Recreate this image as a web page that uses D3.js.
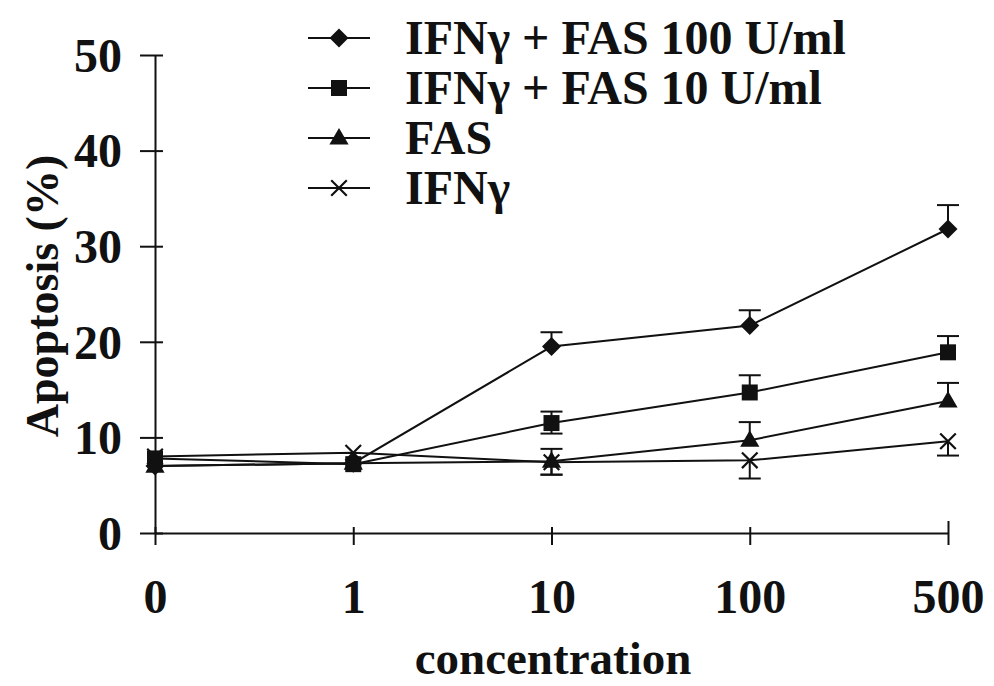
<!DOCTYPE html>
<html>
<head>
<meta charset="utf-8">
<script src="https://cdn.jsdelivr.net/npm/d3@7/dist/d3.min.js"></script>
<style>
  html, body { margin: 0; padding: 0; background: #fff; }
  svg text { font-family: "Liberation Serif", "Times New Roman", serif; font-weight: bold; fill: #111; }
</style>
</head>
<body>
<svg id="chart" width="994" height="686"></svg>
<script>
// Concentration levels (categorical, equally spaced)
const concentrations = ["0", "1", "10", "100", "500"];
const yTicks = [0, 10, 20, 30, 40, 50];

// Apoptosis (%) per series
const fas100Values = [7.0, 7.3, 19.5, 21.7, 31.8];
const fas10Values  = [7.8, 7.2, 11.5, 14.7, 18.9];
const fasValues    = [7.0, 7.3, 7.5, 9.7, 13.8];
const ifnValues    = [8.0, 8.4, 7.4, 7.6, 9.6];

// Error bar extents (upper / lower) per series
const fas100ErrUp   = [0, 0, 1.5, 1.6, 2.5];
const fas100ErrDown = [0, 0, 0, 0, 0];
const fas10ErrUp    = [0, 0, 1.2, 1.8, 1.7];
const fas10ErrDown  = [0, 0, 1.1, 0, 0];
const fasErrUp      = [0, 0, 1.3, 1.9, 1.9];
const fasErrDown    = [0, 0, 1.4, 0, 0];
const ifnErrUp      = [0, 0, 0, 0, 0];
const ifnErrDown    = [0, 0, 1.3, 1.9, 1.5];

const seriesNames = ["IFN\u03b3 + FAS 100 U/ml", "IFN\u03b3 + FAS 10 U/ml", "FAS", "IFN\u03b3"];

const series = [
  { name: seriesNames[0], values: fas100Values, up: fas100ErrUp, down: fas100ErrDown, symbol: "diamond" },
  { name: seriesNames[1], values: fas10Values,  up: fas10ErrUp,  down: fas10ErrDown,  symbol: "square" },
  { name: seriesNames[2], values: fasValues,    up: fasErrUp,    down: fasErrDown,    symbol: "triangle" },
  { name: seriesNames[3], values: ifnValues,    up: ifnErrUp,    down: ifnErrDown,    symbol: "cross" }
];

const svg = d3.select("#chart");
const ink = "#111";

const x = d3.scalePoint().domain(concentrations).range([155, 948]);
const y = d3.scaleLinear().domain([0, 50]).range([533, 55]);

// Y axis: ticks cross the axis line
const yAxis = svg.append("g")
  .attr("transform", `translate(${x(concentrations[0])},0)`)
  .call(d3.axisLeft(y).tickValues(yTicks).tickSize(15).tickSizeOuter(0));
yAxis.select(".domain").attr("stroke", ink).attr("stroke-width", 2);
yAxis.selectAll(".tick line").attr("stroke", ink).attr("stroke-width", 2).attr("x1", 8).attr("x2", -15);
yAxis.selectAll(".tick text").attr("font-size", 48).attr("x", -33).attr("dy", "0.34em");

// X axis
const xAxis = svg.append("g")
  .attr("transform", `translate(0,${y(0)})`)
  .call(d3.axisBottom(x).tickSize(10).tickSizeOuter(0));
xAxis.select(".domain").attr("stroke", ink).attr("stroke-width", 2);
xAxis.selectAll(".tick line").attr("stroke", ink).attr("stroke-width", 2)
  .attr("y1", (d, i) => i === concentrations.length - 1 ? -12 : -6)
  .attr("y2", 12);
xAxis.selectAll(".tick text").attr("font-size", 48).attr("y", 64).attr("dy", "0.34em");

// Axis titles
svg.append("text")
  .attr("transform", `translate(58,${y(25) + 2}) rotate(-90)`)
  .attr("text-anchor", "middle")
  .attr("font-size", 46)
  .text("Apoptosis (%)");

svg.append("text")
  .attr("x", 553)
  .attr("y", 674)
  .attr("text-anchor", "middle")
  .attr("font-size", 47)
  .text("concentration");

// Marker shapes
const rhombus = "M0,-9.5L9.5,0L0,9.5L-9.5,0Z";
function drawMarker(g, type, cx, cy) {
  if (type === "diamond") {
    g.append("path").attr("d", rhombus).attr("transform", `translate(${cx},${cy})`).attr("fill", ink);
  } else if (type === "square") {
    g.append("path").attr("d", d3.symbol(d3.symbolSquare, 256)()).attr("transform", `translate(${cx},${cy})`).attr("fill", ink);
  } else if (type === "triangle") {
    g.append("path").attr("d", d3.symbol(d3.symbolTriangle, 160)()).attr("transform", `translate(${cx},${cy + 1})`).attr("fill", ink);
  } else {
    g.append("path").attr("d", d3.symbol(d3.symbolX, 160)()).attr("transform", `translate(${cx},${cy})`)
      .attr("fill", "none").attr("stroke", ink).attr("stroke-width", 2.2);
  }
}

const line = d3.line().x((d, i) => x(concentrations[i])).y(d => y(d));
const capHalf = 11;

// Draw series from back (IFNγ) to front
series.slice().reverse().forEach(s => {
  const g = svg.append("g");
  g.append("path").datum(s.values).attr("d", line)
    .attr("fill", "none").attr("stroke", ink).attr("stroke-width", 2);

  s.values.forEach((v, i) => {
    const cx = x(concentrations[i]);
    [[s.up[i], 1], [s.down[i], -1]].forEach(([e, dir]) => {
      if (e > 0) {
        const ye = y(v + dir * e);
        g.append("line").attr("x1", cx).attr("x2", cx).attr("y1", y(v)).attr("y2", ye)
          .attr("stroke", ink).attr("stroke-width", 2);
        g.append("line").attr("x1", cx - capHalf).attr("x2", cx + capHalf).attr("y1", ye).attr("y2", ye)
          .attr("stroke", ink).attr("stroke-width", 2);
      }
    });
    drawMarker(g, s.symbol, cx, y(v));
  });
});

// Legend
const legend = svg.append("g");
series.forEach((s, i) => {
  const ly = 38 + i * 50;
  legend.append("line").attr("x1", 308).attr("x2", 370).attr("y1", ly).attr("y2", ly)
    .attr("stroke", ink).attr("stroke-width", 2);
  drawMarker(legend, s.symbol, 339, ly);
  legend.append("text").attr("x", 405).attr("y", ly).attr("dy", "0.34em")
    .attr("font-size", 48).text(s.name);
});
</script>
</body>
</html>
